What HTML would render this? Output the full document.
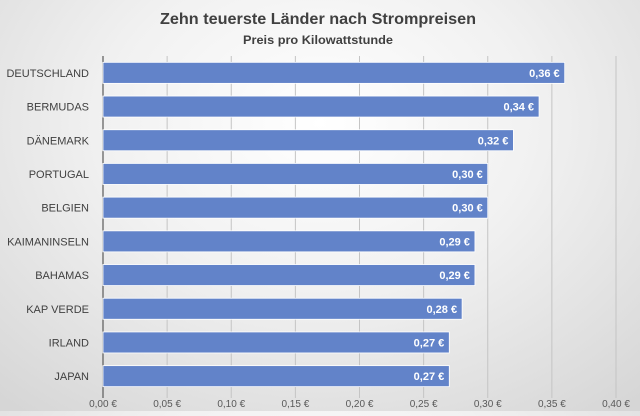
<!DOCTYPE html>
<html><head><meta charset="utf-8"><style>
html,body{margin:0;padding:0}
body{width:640px;height:411px;overflow:hidden;background:radial-gradient(ellipse 75% 90% at 50% 30%,#ffffff 0%,#f1f1f1 45%,#d6d6d6 100%);font-family:"Liberation Sans",sans-serif}
svg text{font-family:"Liberation Sans",sans-serif}
</style></head><body>
<svg id="chart" width="640" height="411">
<text x="318" y="24" text-anchor="middle" font-size="16" font-weight="bold" fill="#404040" textLength="316" lengthAdjust="spacingAndGlyphs">Zehn teuerste Länder nach Strompreisen</text>
<text x="318" y="44" text-anchor="middle" font-size="12" font-weight="bold" fill="#404040" textLength="150" lengthAdjust="spacingAndGlyphs">Preis pro Kilowattstunde</text>
<g id="grid"></g><g id="bars"></g><g id="labels"></g>
</svg>
<script>
const categories=["DEUTSCHLAND","BERMUDAS","DÄNEMARK","PORTUGAL","BELGIEN","KAIMANINSELN","BAHAMAS","KAP VERDE","IRLAND","JAPAN"];
const values=[0.36,0.34,0.32,0.30,0.30,0.29,0.29,0.28,0.27,0.27];
const valueLabels=["0,36 €","0,34 €","0,32 €","0,30 €","0,30 €","0,29 €","0,29 €","0,28 €","0,27 €","0,27 €"];
const ticks=[0,0.05,0.10,0.15,0.20,0.25,0.30,0.35,0.40];
const tickLabels=["0,00 €","0,05 €","0,10 €","0,15 €","0,20 €","0,25 €","0,30 €","0,35 €","0,40 €"];
const NS="http://www.w3.org/2000/svg";
const x0=103,x1=616,yTop=56,yBot=393,maxV=0.4;
const xs=v=>x0+v/maxV*(x1-x0);
const band=(yBot-yTop)/categories.length;
const yc=i=>yTop+band*(i+0.5);
function mk(t,a,p){const e=document.createElementNS(NS,t);for(const k in a)e.setAttribute(k,a[k]);p.appendChild(e);return e;}
const grid=document.getElementById('grid'),bars=document.getElementById('bars'),labels=document.getElementById('labels');
ticks.forEach((t,i)=>{
 const l=mk('line',{x1:xs(t),x2:xs(t),y1:yTop,y2:yBot+5,stroke:i==0?'#595959':'#c4c4c4','stroke-width':i==0?1.2:1},grid);
 
 
 const tx=mk('text',{x:xs(t),y:407,'text-anchor':'middle','font-size':'10',fill:'#595959'},labels);
 tx.textContent=tickLabels[i];
 
 
});
categories.forEach((c,i)=>{
 const y=yc(i);
 const r=mk('rect',{x:x0,y:y-10.5,width:xs(values[i])-x0,height:21,fill:'#6283c9',stroke:'#ffffff','stroke-width':0.8},bars);
 
 
 const vl=mk('text',{x:xs(values[i])-5,y:y+4,'text-anchor':'end','font-size':'11','font-weight':'bold',fill:'#ffffff'},labels);
 vl.textContent=valueLabels[i];
 
 
 const cl=mk('text',{x:89,y:y+4,'text-anchor':'end','font-size':'11',fill:'#404040'},labels);
 cl.textContent=c;
 
 
});
</script>
</body></html>
